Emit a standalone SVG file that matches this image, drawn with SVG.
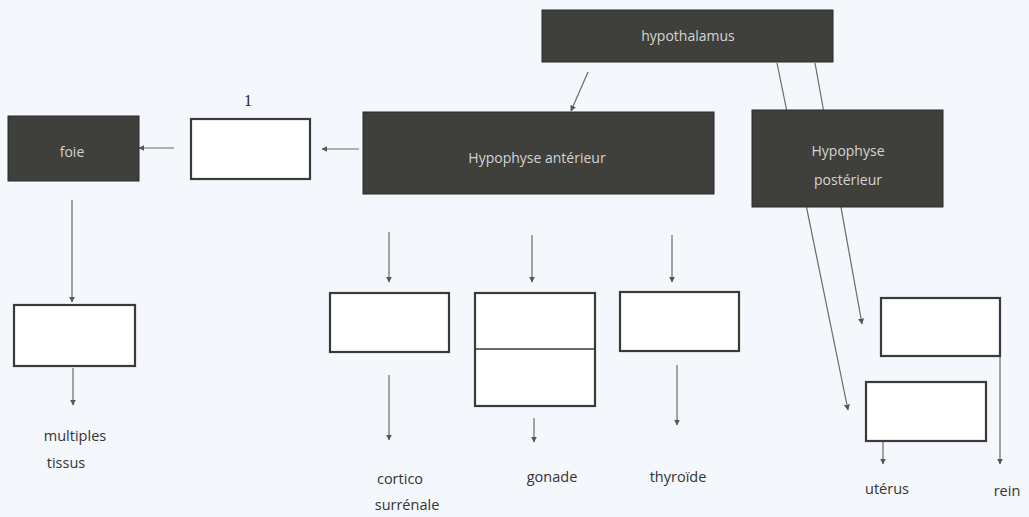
<svg xmlns="http://www.w3.org/2000/svg" width="1029" height="517" viewBox="0 0 1029 517">
<defs>
<marker id="ah" viewBox="0 0 10 10" refX="9" refY="5" markerWidth="6" markerHeight="6" orient="auto" markerUnits="userSpaceOnUse">
<path d="M0,0 L10,5 L0,10 z" fill="#555"/>
</marker>
<style>
.dark{fill:#3f3f3b;stroke:#2a2a28;stroke-width:1}
.box{fill:#ffffff;stroke:#3a3a3a;stroke-width:2.2}
.lt{font-family:"Open Sans","Liberation Sans",sans-serif;font-size:14px;fill:#d4d4d4;text-anchor:middle}
.lb{font-family:"Open Sans","Liberation Sans",sans-serif;font-size:14.5px;fill:#333;text-anchor:middle}
.c{stroke:#6a6a6a;stroke-width:1.2;fill:none;marker-end:url(#ah)}
</style>
</defs>
<rect width="1029" height="517" fill="#f4f7fb"/>
<g id="connectors">
<line class="c" x1="777" y1="63" x2="848" y2="410"/>
<line class="c" x1="815" y1="63" x2="862" y2="324"/>
<line class="c" x1="588" y1="72" x2="571" y2="111"/>
<line class="c" x1="359" y1="149" x2="322" y2="149"/>
<line class="c" x1="174" y1="148" x2="139" y2="148"/>
<line class="c" x1="72" y1="200" x2="72" y2="302"/>
<line class="c" x1="73" y1="368" x2="73" y2="405"/>
<line class="c" x1="389" y1="232" x2="389" y2="282"/>
<line class="c" x1="532" y1="235" x2="532" y2="282"/>
<line class="c" x1="672" y1="235" x2="672" y2="282"/>
<line class="c" x1="389" y1="375" x2="389" y2="440"/>
<line class="c" x1="534" y1="418" x2="534" y2="442"/>
<line class="c" x1="677" y1="365" x2="677" y2="425"/>
<line class="c" x1="883" y1="442" x2="883" y2="464"/>
<line class="c" x1="1000" y1="357" x2="1000" y2="464"/>
</g>
<g id="hypothalamus">
<rect class="dark" x="542" y="10" width="291" height="52"/>
<text class="lt" x="688" y="41">hypothalamus</text>
</g>
<g id="hypophyse-anterieur">
<rect class="dark" x="363" y="112" width="351" height="82"/>
<text class="lt" x="537" y="163">Hypophyse antérieur</text>
</g>
<g id="hypophyse-posterieur">
<rect class="dark" x="752" y="110" width="191" height="97"/>
<text class="lt" x="848" y="156">Hypophyse</text>
<text class="lt" x="848" y="185">postérieur</text>
</g>
<g id="foie">
<rect class="dark" x="8" y="116" width="131" height="65"/>
<text class="lt" x="72" y="157">foie</text>
</g>
<g id="box1">
<rect class="box" x="191" y="119" width="119" height="60"/>
<text x="248" y="106" font-family="Liberation Serif, serif" font-size="16" fill="#222" text-anchor="middle">1</text>
</g>
<g id="box-foie-out">
<rect class="box" x="14" y="305" width="121" height="61"/>
</g>
<g id="multiples-tissus">
<text class="lb" x="75" y="441">multiples</text>
<text class="lb" x="66" y="468">tissus</text>
</g>
<g id="box-cortico">
<rect class="box" x="330" y="293" width="119" height="59"/>
</g>
<g id="box-gonade">
<rect class="box" x="475" y="293" width="120" height="113"/>
<line x1="475" y1="349" x2="595" y2="349" stroke="#3a3a3a" stroke-width="1.5"/>
</g>
<g id="box-thyroide">
<rect class="box" x="620" y="292" width="119" height="59"/>
</g>
<g id="box-rein">
<rect class="box" x="881" y="298" width="119" height="58"/>
</g>
<g id="box-uterus">
<rect class="box" x="866" y="382" width="120" height="59"/>
</g>
<g id="cortico-surrenale">
<text class="lb" x="400" y="484">cortico</text>
<text class="lb" x="407" y="510">surrénale</text>
</g>
<g id="gonade"><text class="lb" x="552" y="482">gonade</text></g>
<g id="thyroide"><text class="lb" x="678" y="482">thyroïde</text></g>
<g id="uterus"><text class="lb" x="887" y="494">utérus</text></g>
<g id="rein"><text class="lb" x="1007" y="496">rein</text></g>
</svg>
